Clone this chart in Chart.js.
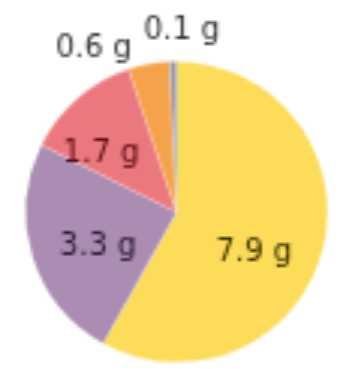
<!DOCTYPE html>
<html>
<head>
<meta charset="utf-8">
<script src="https://cdn.jsdelivr.net/npm/chart.js@4.4.1/dist/chart.umd.min.js"></script>
<style>
  html, body { margin: 0; padding: 0; background: #fff; }
  #wrap { width: 343px; height: 369px; position: relative; }
</style>
</head>
<body>
<div id="wrap"><canvas id="myChart"></canvas></div>
<script>
// data (grams)
const categories = ["A", "B", "C", "D", "E"];
const grams = [7.9, 3.3, 1.7, 0.6, 0.1];
const sliceColors = ["#fcdc58", "#ab8cb3", "#ec787f", "#f5a34a", "#9a93a6"];
const labelColors = ["#3b3300", "#2a1a32", "#5c0c14", "#333333", "#333333"];

// label placement: inside slices at 0.6r, small ones outside at 1.1r
const labelDist = [0.6, 0.6, 0.6, 1.1, 1.1];
const labelNudge = [[-10, 20], [8, 9], [-16, 11], [-52, 1], [9, -16]];

const pieLabels = {
  id: "pieLabels",
  afterDatasetsDraw(chart) {
    const ctx = chart.ctx;
    const meta = chart.getDatasetMeta(0);
    ctx.save();
    ctx.font = '30px "DejaVu Sans"';
    ctx.textAlign = "center";
    ctx.textBaseline = "middle";
    meta.data.forEach((arc, i) => {
      const p = arc.getProps(["x", "y", "startAngle", "endAngle", "outerRadius"], true);
      const mid = (p.startAngle + p.endAngle) / 2;
      const r = p.outerRadius * labelDist[i];
      const x = p.x + Math.cos(mid) * r + labelNudge[i][0];
      const y = p.y + Math.sin(mid) * r + labelNudge[i][1];
      ctx.fillStyle = labelColors[i];
      ctx.fillText(grams[i].toFixed(1) + " g", x, y);
    });
    ctx.restore();
  }
};

var chart = new Chart(document.getElementById("myChart"), {
  type: "pie",
  data: {
    labels: categories,
    datasets: [
      {
        data: grams,
        backgroundColor: sliceColors,
        borderColor: "rgba(255,255,255,0.45)",
        borderWidth: 1,
      },
    ],
  },
  options: {
    responsive: true,
    maintainAspectRatio: false,
    devicePixelRatio: 1 / 3,
    animation: false,
    layout: {
      padding: { top: 61, bottom: 6, left: 24, right: 15 },
    },
    plugins: {
      legend: { display: false },
      tooltip: { enabled: false },
    },
  },
  plugins: [pieLabels],
});
</script>
</body>
</html>
